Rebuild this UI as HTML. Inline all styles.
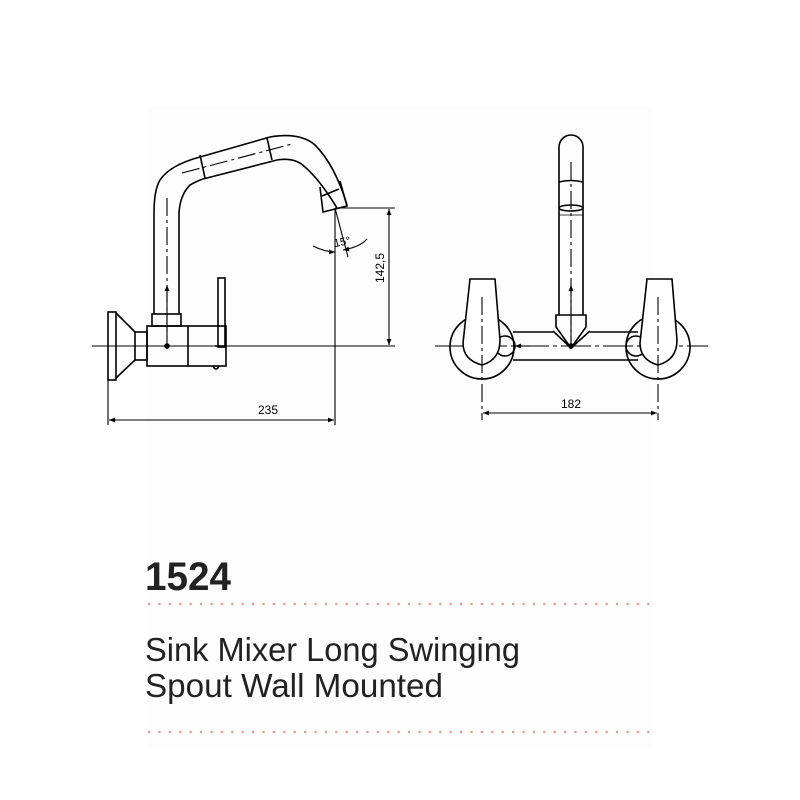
<!DOCTYPE html>
<html><head><meta charset="utf-8"><style>
html,body{margin:0;padding:0;background:#fff;}
svg{display:block;}
</style></head><body>
<svg width="800" height="800" viewBox="0 0 800 800" xmlns="http://www.w3.org/2000/svg">
<defs>
<marker id="ar" viewBox="0 0 10 10" refX="10" refY="5" markerWidth="9" markerHeight="6" orient="auto-start-reverse" markerUnits="userSpaceOnUse"><path d="M0,1 L10,5 L0,9 Z" fill="#000"/></marker>
</defs>
<rect x="147" y="107" width="506" height="640" fill="#fdfdfd"/>
<g fill="none" stroke="#000" stroke-width="1.6">
<!-- LEFT VIEW -->
<line x1="92" y1="346" x2="395" y2="346" stroke-width="1.1"/>
<rect x="108" y="312" width="8" height="68"/>
<path d="M116,313 L135,332 M116,378 L135,360"/>
<rect x="135" y="332" width="12" height="28"/>
<rect x="147" y="326" width="79" height="40"/>
<line x1="188" y1="326" x2="188" y2="366"/>
<rect x="152" y="314" width="29" height="12"/>
<path d="M154,314 L154,213 Q154,190 160,180 Q170,165 200,157 L270,137 Q300,132 315,145 Q335,165 347,205"/>
<path d="M179,314 L179,213 Q180,195 190,185 Q197,181 203,179 L277,160 Q295,157 305,167 Q320,180 337,208"/>
<path d="M320,187 L323,212 L347,206 L340,181"/>
<path d="M200,155 L205,178 M267,138 L272,160 M322,196 L339,189"/>
<path d="M182,173 L292,144" stroke-width="1.1" stroke-dasharray="18,4,3,4"/>
<path d="M167,198 L167,346" stroke-width="1.1" stroke-dasharray="18,4,3,4"/>
<line x1="167" y1="346" x2="167" y2="285" stroke-width="1.1" marker-end="url(#ar)"/>
<circle cx="167" cy="346" r="2" fill="#000"/>
<rect x="218" y="278" width="7" height="69"/>
<path d="M215,346 L225,346 M213,366 Q216,372 219,366"/>
<!-- dims -->
<g stroke-width="1.1">
<line x1="335" y1="208" x2="335" y2="425"/>
<line x1="335" y1="208" x2="395" y2="208"/>
<line x1="389" y1="209" x2="389" y2="345" marker-start="url(#ar)" marker-end="url(#ar)"/>
<line x1="108" y1="380" x2="108" y2="425"/>
<line x1="109" y1="420" x2="334" y2="420" marker-start="url(#ar)" marker-end="url(#ar)"/>
<line x1="335" y1="208" x2="348" y2="257"/>
<path d="M313,246 Q325,252 335,252" marker-end="url(#ar)"/>
<path d="M367,239 Q360,247 343,250" marker-end="url(#ar)"/>
</g>
<!-- RIGHT VIEW -->
<line x1="435" y1="346" x2="708" y2="346" stroke-width="1.1" stroke-dasharray="30,4,4,4"/>
<path d="M559,315 L559,147 A12,12 0 0 1 583,147 L583,315"/>
<path d="M559,182 Q571,179 583,182"/>
<ellipse cx="571" cy="208" rx="12" ry="3"/>
<line x1="559" y1="215" x2="583" y2="215" stroke-width="0.8"/>
<path d="M571,162 L571,346" stroke-width="1.1" stroke-dasharray="18,4,3,4"/>
<line x1="571" y1="346" x2="571" y2="285" stroke-width="1.1" marker-end="url(#ar)"/>
<path d="M556,315 L586,315 L586,327 L571,348 L556,327 Z"/>
<path d="M553,331 L571,348 L590,331"/>
<path d="M513,332 L553,332 M590,332 L638,332 M513,360 L638,360"/>
<circle cx="482" cy="347" r="32"/>
<circle cx="658" cy="347" r="32"/>
<circle cx="505" cy="346" r="10"/>
<circle cx="636" cy="346" r="10"/>
<path d="M470,279 L495,279 L500,340 Q500,360 482,365 Q463,360 463,343 Z" fill="#fff"/>
<path d="M647,279 L672,279 L677,340 Q677,360 658,365 Q640,360 640,343 Z" fill="#fff"/>
<path d="M482,297 L482,420 M658,297 L658,420" stroke-width="1.1" stroke-dasharray="18,4,3,4"/>
<line x1="530" y1="346" x2="515" y2="346" stroke-width="1.1" marker-end="url(#ar)"/>
<circle cx="571" cy="346" r="2" fill="#000"/>
<line x1="483" y1="413" x2="657" y2="413" stroke-width="1.1" marker-start="url(#ar)" marker-end="url(#ar)"/>
</g>
<g font-family="Liberation Sans, sans-serif" font-size="12" fill="#000">
<text x="268" y="414" text-anchor="middle">235</text>
<text x="571" y="408" text-anchor="middle">182</text>
<text x="384" y="268" text-anchor="middle" transform="rotate(-90 384 268)">142,5</text>
<text x="334" y="246" font-size="11" transform="rotate(-12 340 243)">15°</text>
</g>
<text x="145" y="590" font-family="Liberation Sans, sans-serif" font-weight="bold" font-size="40" fill="#222" textLength="86" lengthAdjust="spacingAndGlyphs">1524</text>
<line x1="148" y1="604" x2="652" y2="604" stroke="#e89888" stroke-width="2.2" stroke-dasharray="2.2,8.2"/>
<text x="145" y="661" font-family="Liberation Sans, sans-serif" font-size="33" fill="#222" textLength="375" lengthAdjust="spacingAndGlyphs">Sink Mixer Long Swinging</text>
<text x="145" y="697" font-family="Liberation Sans, sans-serif" font-size="33" fill="#222" textLength="298" lengthAdjust="spacingAndGlyphs">Spout Wall Mounted</text>
<line x1="148" y1="732" x2="652" y2="732" stroke="#e89888" stroke-width="2.2" stroke-dasharray="2.2,8.2"/>
</svg>
</body></html>
